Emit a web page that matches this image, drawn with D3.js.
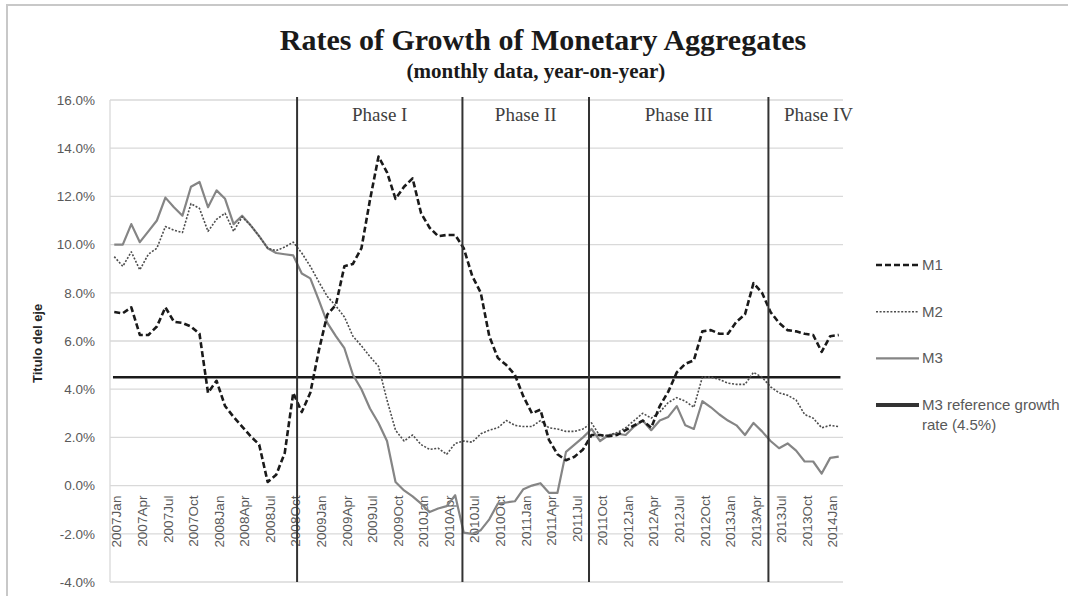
<!DOCTYPE html>
<html>
<head>
<meta charset="utf-8">
<script src="https://cdn.jsdelivr.net/npm/d3@7"></script>
<style>
  body { margin:0; background:#fff; }
  .tick text { font-family:"Liberation Sans", Arial, sans-serif; fill:#595959; }
</style>
</head>
<body>
<div id="chart"></div>
<script>
var width = 1068
var height = 596
var padding = {top:100, bottom:14, left:110, right:225}

// categories: monthly, 2007Jan .. 2014Feb
var years = [2007,2008,2009,2010,2011,2012,2013,2014]
var monthNames = ["Jan","Feb","Mar","Apr","May","Jun","Jul","Aug","Sep","Oct","Nov","Dec"]
var months = []
years.forEach(function(y){
  monthNames.forEach(function(m){ months.push(y + m) })
})
months = months.slice(0, 86)

// year-on-year growth, %
var m1 = [7.2,7.15,7.4,6.25,6.25,6.6,7.4,6.8,6.75,6.6,6.3,3.85,
  4.35,3.3,2.85,2.45,2.05,1.7,0.15,0.45,1.35,3.85,3.05,3.85,
  5.6,7.1,7.5,9.1,9.2,9.85,11.85,13.65,13.0,11.9,12.4,12.75,
  11.3,10.7,10.35,10.4,10.4,9.85,8.7,8.0,6.2,5.3,5.0,4.6,
  3.7,3.0,3.15,1.9,1.3,1.05,1.2,1.5,2.1,2.1,2.05,2.1,
  2.3,2.5,2.7,2.4,3.3,3.9,4.7,5.05,5.2,6.4,6.45,6.3,
  6.3,6.8,7.1,8.4,8.0,7.2,6.75,6.45,6.4,6.3,6.25,5.55,
  6.2,6.25]
var m2 = [9.5,9.1,9.7,8.95,9.6,9.85,10.75,10.6,10.5,11.7,11.5,10.55,
  11.05,11.3,10.55,11.15,10.8,10.35,9.85,9.75,9.9,10.1,9.65,9.1,
  8.45,7.85,7.45,7.0,6.2,5.8,5.35,4.95,3.55,2.3,1.85,2.1,
  1.7,1.5,1.55,1.3,1.75,1.85,1.8,2.15,2.3,2.4,2.7,2.5,
  2.45,2.45,2.7,2.4,2.35,2.25,2.25,2.35,2.6,2.05,2.1,2.2,
  2.4,2.7,3.0,2.8,3.05,3.45,3.65,3.5,3.25,4.5,4.5,4.4,
  4.25,4.2,4.2,4.7,4.5,4.1,3.85,3.75,3.55,2.95,2.8,2.4,
  2.5,2.45]
var m3 = [10.0,10.0,10.85,10.1,10.55,11.0,11.95,11.55,11.2,12.4,12.6,11.55,
  12.25,11.9,10.85,11.2,10.8,10.35,9.85,9.65,9.6,9.55,8.8,8.6,
  7.7,6.75,6.2,5.7,4.6,4.0,3.2,2.6,1.85,0.15,-0.2,-0.45,
  -0.75,-1.1,-0.95,-0.85,-0.4,-1.95,-2.0,-1.85,-1.4,-0.75,-0.7,-0.65,
  -0.15,0.0,0.1,-0.3,-0.3,1.4,1.7,2.0,2.35,1.85,2.1,2.15,
  2.1,2.45,2.7,2.3,2.7,2.85,3.3,2.5,2.35,3.5,3.25,2.95,
  2.7,2.5,2.1,2.6,2.25,1.85,1.55,1.75,1.45,1.0,1.0,0.5,
  1.15,1.2]
var m3Reference = 4.5

var yTicks = [-4,-2,0,2,4,6,8,10,12,14,16]
var phaseNames = ["Phase I","Phase II","Phase III","Phase IV"]
// phase boundaries, in months from 2007Jan
var phaseStarts = [21.95, 41.35, 56.2, 77.25]

var svg = d3.select('#chart')
  .append('svg')
  .attr('width', width)
  .attr('height', height)
  .style('font-family', '"Liberation Sans", Arial, sans-serif')

// outer chart border
svg.append('rect')
  .attr('x', 7).attr('y', 5)
  .attr('width', width + 20).attr('height', height + 20)
  .attr('fill', 'none')
  .attr('stroke', '#c8c8c8')
  .attr('stroke-width', 2)

var x = d3.scaleLinear().domain([0, months.length]).range([padding.left, width - padding.right])
var y = d3.scaleLinear().domain([-4, 16]).range([height - padding.bottom, padding.top])

// gridlines
svg.append('g').selectAll('line')
  .data(yTicks)
  .enter().append('line')
  .attr('x1', x(0)).attr('x2', x(months.length))
  .attr('y1', function(d){ return y(d) }).attr('y2', function(d){ return y(d) })
  .attr('stroke', '#d9d9d9')
  .attr('stroke-width', 1.3)

svg.append('line')
  .attr('x1', x(0)).attr('x2', x(0))
  .attr('y1', y(16)).attr('y2', y(-4))
  .attr('stroke', '#d9d9d9')
  .attr('stroke-width', 1.3)

// y axis labels
var yAxis = d3.axisLeft(y)
  .tickValues(yTicks)
  .tickSize(0)
  .tickPadding(15)
  .tickFormat(function(d){ return d.toFixed(1) + '%' })
svg.append('g')
  .attr('transform', 'translate(' + x(0) + ',0)')
  .call(yAxis)
  .call(function(g){ g.select('.domain').remove() })
  .selectAll('text')
  .style('font-size', '13.5px')

// x axis labels, every third month, rotated
var xAxis = d3.axisBottom(x)
  .tickValues(d3.range(0, months.length, 3).map(function(i){ return i + 0.5 }))
  .tickSize(0)
  .tickFormat(function(d){ return months[Math.floor(d)] })
svg.append('g')
  .attr('transform', 'translate(0,' + y(0) + ')')
  .call(xAxis)
  .call(function(g){ g.select('.domain').remove() })
  .selectAll('text')
  .style('font-size', '13.5px')
  .style('text-anchor', 'end')
  .attr('x', -10)
  .attr('y', 2)
  .attr('dy', '0.35em')
  .attr('transform', 'rotate(-90)')

// axis title
svg.append('text')
  .attr('transform', 'translate(42,' + y(5.9) + ') rotate(-90)')
  .attr('text-anchor', 'middle')
  .style('font-size', '13px')
  .style('font-weight', 'bold')
  .attr('fill', '#262626')
  .text('Titulo del eje')

// M3 reference line
svg.append('line')
  .attr('x1', x(0.35)).attr('x2', x(85.7))
  .attr('y1', y(m3Reference)).attr('y2', y(m3Reference))
  .attr('stroke', '#1a1a1a')
  .attr('stroke-width', 2.5)

var series = [
  {name:'M1', values:m1, color:'#1a1a1a', width:2.6, dash:'6,3'},
  {name:'M2', values:m2, color:'#4d4d4d', width:1.6, dash:'2,1.6'},
  {name:'M3', values:m3, color:'#858585', width:2.2, dash:null}
]

var line = d3.line()
  .x(function(d,i){ return x(i + 0.5) })
  .y(function(d){ return y(d) })

svg.append('g').selectAll('path')
  .data(series.slice().reverse())
  .enter().append('path')
  .attr('d', function(d){ return line(d.values) })
  .attr('fill', 'none')
  .attr('stroke', function(d){ return d.color })
  .attr('stroke-width', function(d){ return d.width })
  .attr('stroke-dasharray', function(d){ return d.dash })
  .attr('stroke-linejoin', 'round')

// phase separators
svg.append('g').selectAll('line')
  .data(phaseStarts)
  .enter().append('line')
  .attr('x1', function(d){ return x(d) }).attr('x2', function(d){ return x(d) })
  .attr('y1', y(16) - 3).attr('y2', y(-4))
  .attr('stroke', '#333')
  .attr('stroke-width', 2)

svg.append('g').selectAll('text')
  .data(phaseNames)
  .enter().append('text')
  .attr('x', function(d,i){
    var end = i < phaseStarts.length - 1 ? phaseStarts[i+1] : months.length + 3
    return x((phaseStarts[i] + end) / 2)
  })
  .attr('y', 121)
  .attr('text-anchor', 'middle')
  .style('font-family', '"Liberation Serif", "Times New Roman", serif')
  .style('font-size', '19px')
  .attr('fill', '#404040')
  .text(function(d){ return d })

// title
svg.append('text')
  .attr('x', 543).attr('y', 50)
  .attr('text-anchor', 'middle')
  .style('font-family', '"Liberation Serif", "Times New Roman", serif')
  .style('font-size', '30px')
  .style('font-weight', 'bold')
  .attr('fill', '#1a1a1a')
  .text('Rates of Growth of Monetary Aggregates')

svg.append('text')
  .attr('x', 536).attr('y', 78)
  .attr('text-anchor', 'middle')
  .style('font-family', '"Liberation Serif", "Times New Roman", serif')
  .style('font-size', '21px')
  .style('font-weight', 'bold')
  .attr('fill', '#1a1a1a')
  .text('(monthly data, year-on-year)')

// legend
var legendItems = [
  {lines:['M1'], color:'#1a1a1a', width:2.6, dash:'6,3'},
  {lines:['M2'], color:'#4d4d4d', width:1.6, dash:'2,1.6'},
  {lines:['M3'], color:'#858585', width:2.2, dash:null},
  {lines:['M3 reference growth','rate (4.5%)'], color:'#333', width:4, dash:null}
]
var legend = svg.append('g').selectAll('g')
  .data(legendItems)
  .enter().append('g')
  .attr('transform', function(d,i){ return 'translate(876,' + (265 + i*46.7) + ')' })

legend.append('line')
  .attr('x1', 0).attr('x2', 43)
  .attr('stroke', function(d){ return d.color })
  .attr('stroke-width', function(d){ return d.width })
  .attr('stroke-dasharray', function(d){ return d.dash })

legend.append('text')
  .attr('x', 46)
  .attr('y', 5)
  .style('font-size', '15px')
  .attr('fill', '#595959')
  .selectAll('tspan')
  .data(function(d){ return d.lines })
  .enter().append('tspan')
  .attr('x', 46)
  .attr('dy', function(d,i){ return i == 0 ? 0 : 20 })
  .text(function(d){ return d })
</script>
</body>
</html>
